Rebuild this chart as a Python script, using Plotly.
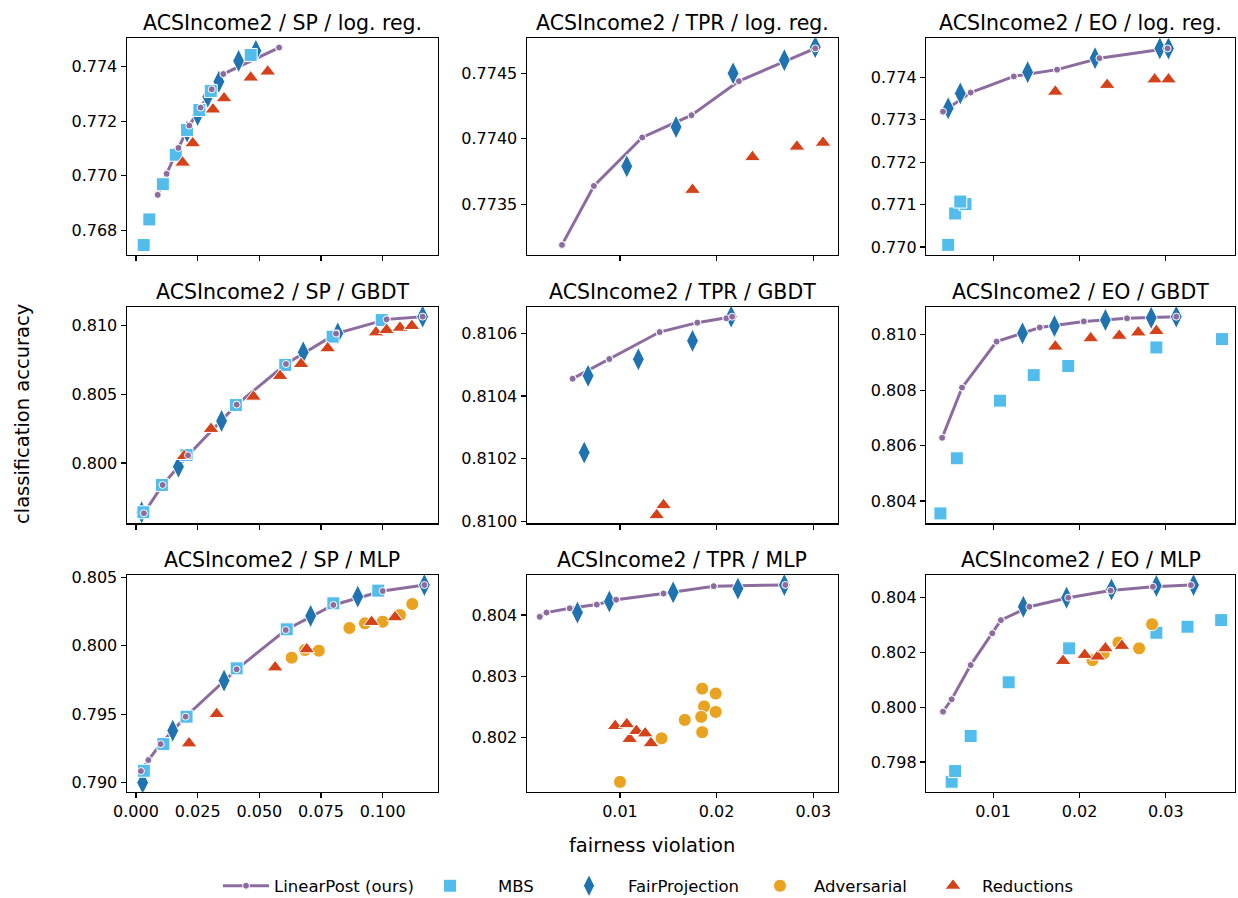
import plotly.graph_objects as go

W, H = 1238, 898

# ---------------- data ----------------
titles = [
    "ACSIncome2 / SP / log. reg.", "ACSIncome2 / TPR / log. reg.", "ACSIncome2 / EO / log. reg.",
    "ACSIncome2 / SP / GBDT", "ACSIncome2 / TPR / GBDT", "ACSIncome2 / EO / GBDT",
    "ACSIncome2 / SP / MLP", "ACSIncome2 / TPR / MLP", "ACSIncome2 / EO / MLP",
]
method_names = ["LinearPost (ours)", "MBS", "FairProjection", "Adversarial", "Reductions"]
x_label = "fairness violation"
y_label = "classification accuracy"

# SP / log. reg.
sp_lr_lp_x = [0.0088, 0.0124, 0.0172, 0.0216, 0.0262, 0.0307, 0.0354, 0.0580]
sp_lr_lp_y = [0.76930, 0.77007, 0.77102, 0.77184, 0.77250, 0.77317, 0.77373, 0.77470]
sp_lr_mbs_x = [0.0031, 0.0054, 0.0109, 0.0161, 0.0207, 0.0257, 0.0303, 0.0465]
sp_lr_mbs_y = [0.76746, 0.76840, 0.76969, 0.77077, 0.77168, 0.77241, 0.77311, 0.77443]
sp_lr_fp_x = [0.0207, 0.0250, 0.0291, 0.0336, 0.0416, 0.0486]
sp_lr_fp_y = [0.77162, 0.77223, 0.77290, 0.77345, 0.77421, 0.77458]
sp_lr_red_x = [0.0189, 0.0230, 0.0312, 0.0357, 0.0465, 0.0534]
sp_lr_red_y = [0.77048, 0.77119, 0.77243, 0.77284, 0.77360, 0.77382]

# TPR / log. reg.
tpr_lr_lp_x = [0.0040, 0.0073, 0.0123, 0.0174, 0.0223, 0.0302]
tpr_lr_lp_y = [0.77319, 0.77364, 0.77401, 0.77418, 0.77444, 0.77469]
tpr_lr_fp_x = [0.0107, 0.0158, 0.0217, 0.0270, 0.0302]
tpr_lr_fp_y = [0.77379, 0.77409, 0.77450, 0.77460, 0.77470]
tpr_lr_red_x = [0.0175, 0.0237, 0.0283, 0.0310]
tpr_lr_red_y = [0.77361, 0.77386, 0.77394, 0.77397]

# EO / log. reg.
eo_lr_lp_x = [0.0042, 0.0074, 0.0124, 0.0174, 0.0223, 0.0302]
eo_lr_lp_y = [0.77319, 0.77364, 0.77402, 0.77418, 0.77445, 0.77468]
eo_lr_mbs_x = [0.0048, 0.0056, 0.0068, 0.0062]
eo_lr_mbs_y = [0.77005, 0.77079, 0.77101, 0.77107]
eo_lr_fp_x = [0.0048, 0.0062, 0.0140, 0.0218, 0.0293, 0.0303]
eo_lr_fp_y = [0.77327, 0.77362, 0.77412, 0.77445, 0.77468, 0.77468]
eo_lr_red_x = [0.0172, 0.0232, 0.0287, 0.0303]
eo_lr_red_y = [0.77366, 0.77382, 0.77395, 0.77395]

# SP / GBDT
sp_gb_lp_x = [0.0032, 0.0108, 0.0211, 0.0408, 0.0608, 0.0811, 0.1016, 0.1162]
sp_gb_lp_y = [0.79634, 0.79840, 0.80056, 0.80425, 0.80721, 0.80942, 0.81046, 0.81066]
sp_gb_mbs_x = [0.0030, 0.0105, 0.0205, 0.0405, 0.0605, 0.0797, 0.0996]
sp_gb_mbs_y = [0.79641, 0.79840, 0.80058, 0.80422, 0.80714, 0.80920, 0.81041]
sp_gb_fp_x = [0.0023, 0.0172, 0.0347, 0.0678, 0.0818, 0.1162]
sp_gb_fp_y = [0.79641, 0.79973, 0.80306, 0.80806, 0.80944, 0.81066]
sp_gb_red_x = [0.0195, 0.0304, 0.0476, 0.0584, 0.0669, 0.0777, 0.0973, 0.1016, 0.1070, 0.1118]
sp_gb_red_y = [0.80051, 0.80248, 0.80483, 0.80634, 0.80721, 0.80835, 0.80951, 0.80968, 0.80985, 0.80998]

# TPR / GBDT
tpr_gb_lp_x = [0.0051, 0.0089, 0.0141, 0.0180, 0.0210, 0.0216]
tpr_gb_lp_y = [0.810455, 0.810518, 0.810604, 0.810634, 0.810648, 0.810653]
tpr_gb_fp_x = [0.0063, 0.0067, 0.0119, 0.0175, 0.0215]
tpr_gb_fp_y = [0.810219, 0.810464, 0.810517, 0.810576, 0.810653]
tpr_gb_red_x = [0.0138, 0.0145]
tpr_gb_red_y = [0.810019, 0.810051]

# EO / GBDT
eo_gb_lp_x = [0.0041, 0.0064, 0.0104, 0.0154, 0.0205, 0.0255, 0.0312]
eo_gb_lp_y = [0.80628, 0.80809, 0.80975, 0.81026, 0.81048, 0.81059, 0.81065]
eo_gb_mbs_x = [0.0039, 0.0058, 0.0108, 0.0147, 0.0187, 0.0289, 0.0365]
eo_gb_mbs_y = [0.80355, 0.80554, 0.80762, 0.80854, 0.80887, 0.80954, 0.80984]
eo_gb_fp_x = [0.0134, 0.0171, 0.0230, 0.0283, 0.0312]
eo_gb_fp_y = [0.81005, 0.81031, 0.81053, 0.81061, 0.81065]
eo_gb_red_x = [0.0172, 0.0213, 0.0246, 0.0268, 0.0289]
eo_gb_red_y = [0.80957, 0.80987, 0.80996, 0.81008, 0.81013]

# SP / MLP
sp_mlp_lp_x = [0.0020, 0.0050, 0.0100, 0.0201, 0.0408, 0.0607, 0.0800, 0.1000, 0.1169]
sp_mlp_lp_y = [0.79085, 0.79165, 0.79282, 0.79482, 0.79828, 0.80115, 0.80298, 0.80400, 0.80444]
sp_mlp_mbs_x = [0.0032, 0.0111, 0.0205, 0.0408, 0.0611, 0.0800, 0.0982]
sp_mlp_mbs_y = [0.79087, 0.79282, 0.79482, 0.79835, 0.80120, 0.80310, 0.80403]
sp_mlp_fp_x = [0.0027, 0.0149, 0.0357, 0.0708, 0.0899, 0.1169]
sp_mlp_fp_y = [0.79000, 0.79380, 0.79745, 0.80218, 0.80359, 0.80444]
sp_mlp_adv_x = [0.0631, 0.0685, 0.0741, 0.0865, 0.0928, 0.1000, 0.1070, 0.1120]
sp_mlp_adv_y = [0.79913, 0.79969, 0.79964, 0.80130, 0.80164, 0.80176, 0.80225, 0.80305]
sp_mlp_red_x = [0.0215, 0.0327, 0.0564, 0.0692, 0.0955, 0.1050]
sp_mlp_red_y = [0.79287, 0.79501, 0.79842, 0.79974, 0.80174, 0.80208]

# TPR / MLP
tpr_mlp_lp_x = [0.0017, 0.0024, 0.0048, 0.0076, 0.0096, 0.0145, 0.0197, 0.0271]
tpr_mlp_lp_y = [0.80397, 0.80404, 0.80411, 0.80417, 0.80425, 0.80435, 0.80447, 0.80449]
tpr_mlp_fp_x = [0.0056, 0.0089, 0.0155, 0.0222, 0.0270]
tpr_mlp_fp_y = [0.80404, 0.80422, 0.80437, 0.80443, 0.80449]
tpr_mlp_adv_x = [0.0100, 0.0143, 0.0167, 0.0185, 0.0199, 0.0187, 0.0184, 0.0199, 0.0185]
tpr_mlp_adv_y = [0.80128, 0.80199, 0.80229, 0.80280, 0.80272, 0.80251, 0.80234, 0.80242, 0.80209]
tpr_mlp_red_x = [0.0095, 0.0107, 0.0110, 0.0117, 0.0126, 0.0132]
tpr_mlp_red_y = [0.80219, 0.80222, 0.80198, 0.80211, 0.80207, 0.80191]

# EO / MLP
eo_mlp_lp_x = [0.0042, 0.0052, 0.0074, 0.0099, 0.0109, 0.0142, 0.0187, 0.0236, 0.0285, 0.0329]
eo_mlp_lp_y = [0.79984, 0.80029, 0.80154, 0.80270, 0.80318, 0.80367, 0.80400, 0.80426, 0.80440, 0.80446]
eo_mlp_mbs_x = [0.0052, 0.0056, 0.0074, 0.0118, 0.0188, 0.0289, 0.0325, 0.0364]
eo_mlp_mbs_y = [0.79728, 0.79767, 0.79895, 0.80091, 0.80215, 0.80272, 0.80294, 0.80318]
eo_mlp_fp_x = [0.0135, 0.0185, 0.0237, 0.0289, 0.0332]
eo_mlp_fp_y = [0.80367, 0.80400, 0.80430, 0.80443, 0.80446]
eo_mlp_adv_x = [0.0215, 0.0228, 0.0245, 0.0269, 0.0284]
eo_mlp_adv_y = [0.80172, 0.80197, 0.80236, 0.80215, 0.80303]
eo_mlp_red_x = [0.0181, 0.0206, 0.0221, 0.0230, 0.0249]
eo_mlp_red_y = [0.80169, 0.80191, 0.80185, 0.80215, 0.80224]

# tick values
x_ticks_sp = [0.0, 0.025, 0.05, 0.075, 0.1]
x_ticks_rate = [0.01, 0.02, 0.03]
y_ticks = [
    [0.768, 0.770, 0.772, 0.774],
    [0.7735, 0.7740, 0.7745],
    [0.770, 0.771, 0.772, 0.773, 0.774],
    [0.800, 0.805, 0.810],
    [0.8100, 0.8102, 0.8104, 0.8106],
    [0.804, 0.806, 0.808, 0.810],
    [0.790, 0.795, 0.800, 0.805],
    [0.802, 0.803, 0.804],
    [0.798, 0.800, 0.802, 0.804],
]
y_tick_formats = [".3f", ".4f", ".3f", ".3f", ".4f", ".3f", ".3f", ".3f", ".3f"]

# ---------------- styling / layout ----------------
FONT = "DejaVu Sans"
C_LP = "#8C6C9F"
C_MBS = "#52BDEC"
C_FP = "#1F73B0"
C_ADV = "#E9A321"
C_RED = "#D5421A"

col_px = [(126.7, 437.7), (526.7, 838.0), (926.0, 1235.0)]
row_px = [(38.3, 255.0), (306.7, 523.3), (575.0, 791.7)]
x_ranges = [[-0.00377, 0.1223], [0.00035, 0.03255], [0.00223, 0.0380]]
y_ranges = [
    [0.767095, 0.775040], [0.773113, 0.774767], [0.769811, 0.774919],
    [0.795607, 0.811383], [0.809993, 0.810685], [0.803194, 0.811010],
    [0.789342, 0.805170], [0.801120, 0.804652], [0.796917, 0.804828],
]

panels = [
    dict(lp=(sp_lr_lp_x, sp_lr_lp_y), mbs=(sp_lr_mbs_x, sp_lr_mbs_y), fp=(sp_lr_fp_x, sp_lr_fp_y), adv=None, red=(sp_lr_red_x, sp_lr_red_y)),
    dict(lp=(tpr_lr_lp_x, tpr_lr_lp_y), mbs=None, fp=(tpr_lr_fp_x, tpr_lr_fp_y), adv=None, red=(tpr_lr_red_x, tpr_lr_red_y)),
    dict(lp=(eo_lr_lp_x, eo_lr_lp_y), mbs=(eo_lr_mbs_x, eo_lr_mbs_y), fp=(eo_lr_fp_x, eo_lr_fp_y), adv=None, red=(eo_lr_red_x, eo_lr_red_y)),
    dict(lp=(sp_gb_lp_x, sp_gb_lp_y), mbs=(sp_gb_mbs_x, sp_gb_mbs_y), fp=(sp_gb_fp_x, sp_gb_fp_y), adv=None, red=(sp_gb_red_x, sp_gb_red_y)),
    dict(lp=(tpr_gb_lp_x, tpr_gb_lp_y), mbs=None, fp=(tpr_gb_fp_x, tpr_gb_fp_y), adv=None, red=(tpr_gb_red_x, tpr_gb_red_y)),
    dict(lp=(eo_gb_lp_x, eo_gb_lp_y), mbs=(eo_gb_mbs_x, eo_gb_mbs_y), fp=(eo_gb_fp_x, eo_gb_fp_y), adv=None, red=(eo_gb_red_x, eo_gb_red_y)),
    dict(lp=(sp_mlp_lp_x, sp_mlp_lp_y), mbs=(sp_mlp_mbs_x, sp_mlp_mbs_y), fp=(sp_mlp_fp_x, sp_mlp_fp_y), adv=(sp_mlp_adv_x, sp_mlp_adv_y), red=(sp_mlp_red_x, sp_mlp_red_y)),
    dict(lp=(tpr_mlp_lp_x, tpr_mlp_lp_y), mbs=None, fp=(tpr_mlp_fp_x, tpr_mlp_fp_y), adv=(tpr_mlp_adv_x, tpr_mlp_adv_y), red=(tpr_mlp_red_x, tpr_mlp_red_y)),
    dict(lp=(eo_mlp_lp_x, eo_mlp_lp_y), mbs=(eo_mlp_mbs_x, eo_mlp_mbs_y), fp=(eo_mlp_fp_x, eo_mlp_fp_y), adv=(eo_mlp_adv_x, eo_mlp_adv_y), red=(eo_mlp_red_x, eo_mlp_red_y)),
]

fig = go.Figure()
shown = set()

def legend_flag(key):
    if key in shown:
        return False
    shown.add(key)
    return True

legend_ids = {"lp": "legend", "mbs": "legend2", "fp": "legend3", "adv": "legend4", "red": "legend5"}

for k, p in enumerate(panels):
    s = "" if k == 0 else str(k + 1)
    xa, ya = "x" + s, "y" + s
    lx, ly = p["lp"]
    fig.add_trace(go.Scatter(
        x=lx, y=ly, mode="lines+markers", name=method_names[0], legendgroup="lp",
        legend=legend_ids["lp"], showlegend=legend_flag("lp"),
        line=dict(color=C_LP, width=3),
        marker=dict(symbol="circle", size=7, color=C_LP, line=dict(color="white", width=1)),
        xaxis=xa, yaxis=ya, hoverinfo="skip"))
    if p["fp"] is not None:
        fig.add_trace(go.Scatter(
            x=p["fp"][0], y=p["fp"][1], mode="markers", name=method_names[2], legendgroup="fp",
            legend=legend_ids["fp"], showlegend=legend_flag("fp"),
            marker=dict(symbol="diamond-tall", size=17, color=C_FP, line=dict(color="white", width=1)),
            xaxis=xa, yaxis=ya, hoverinfo="skip"))
    if p["mbs"] is not None:
        fig.add_trace(go.Scatter(
            x=p["mbs"][0], y=p["mbs"][1], mode="markers", name=method_names[1], legendgroup="mbs",
            legend=legend_ids["mbs"], showlegend=legend_flag("mbs"),
            marker=dict(symbol="square", size=13, color=C_MBS, line=dict(color="white", width=1)),
            xaxis=xa, yaxis=ya, hoverinfo="skip"))
    if p["adv"] is not None:
        fig.add_trace(go.Scatter(
            x=p["adv"][0], y=p["adv"][1], mode="markers", name=method_names[3], legendgroup="adv",
            legend=legend_ids["adv"], showlegend=legend_flag("adv"),
            marker=dict(symbol="circle", size=13, color=C_ADV, line=dict(color="white", width=1)),
            xaxis=xa, yaxis=ya, hoverinfo="skip"))
    if p["red"] is not None:
        fig.add_trace(go.Scatter(
            x=p["red"][0], y=p["red"][1], mode="markers", name=method_names[4], legendgroup="red",
            legend=legend_ids["red"], showlegend=legend_flag("red"),
            marker=dict(symbol="triangle-up", size=14, color=C_RED, line=dict(color="white", width=1)),
            xaxis=xa, yaxis=ya, hoverinfo="skip"))
    fig.add_trace(go.Scatter(
        x=lx, y=ly, mode="markers", name=method_names[0], legendgroup="lp",
        legend=legend_ids["lp"], showlegend=False,
        marker=dict(symbol="circle", size=7, color=C_LP, line=dict(color="white", width=1)),
        xaxis=xa, yaxis=ya, hoverinfo="skip"))

layout = dict(
    width=W, height=H,
    margin=dict(l=0, r=0, t=0, b=0, pad=0, autoexpand=False),
    paper_bgcolor="white", plot_bgcolor="white",
    font=dict(family=FONT, size=16, color="black"),
    hovermode=False,
)

axis_common = dict(showgrid=False, zeroline=False, showline=True, linecolor="black", linewidth=1.2,
                   mirror=True, ticks="outside", ticklen=5, tickwidth=1.2, tickcolor="black",
                   automargin=False,
                   tickfont=dict(family=FONT, size=16, color="black"))

annotations = []
for k in range(9):
    r, c = divmod(k, 3)
    s = "" if k == 0 else str(k + 1)
    x0, x1 = col_px[c]
    y0, y1 = row_px[r]
    xt = x_ticks_sp if c == 0 else x_ticks_rate
    layout["xaxis" + s] = dict(axis_common, domain=[x0 / W, x1 / W], range=x_ranges[c],
                               anchor="y" + s, tickmode="array", tickvals=xt,
                               tickformat=".3f" if c == 0 else ".2f",
                               showticklabels=(r == 2))
    layout["yaxis" + s] = dict(axis_common, domain=[1 - y1 / H, 1 - y0 / H], range=y_ranges[k],
                               anchor="x" + s, tickmode="array", tickvals=y_ticks[k],
                               tickformat=y_tick_formats[k])
    annotations.append(dict(text=titles[k], xref="paper", yref="paper",
                            x=(x0 + x1) / 2 / W, y=1 - y0 / H, xanchor="center", yanchor="bottom",
                            yshift=1, showarrow=False, font=dict(family=FONT, size=20.5, color="black")))

annotations.append(dict(text=x_label, xref="paper", yref="paper", x=652 / W, y=1 - 845 / H,
                        xanchor="center", yanchor="middle", showarrow=False,
                        font=dict(family=FONT, size=19.5, color="black")))
annotations.append(dict(text=y_label, xref="paper", yref="paper", x=22 / W, y=1 - 414 / H,
                        xanchor="center", yanchor="middle", textangle=-90, showarrow=False,
                        font=dict(family=FONT, size=19.5, color="black")))
layout["annotations"] = annotations

# legend placement: (left px, item width px)
legend_pos = {"legend": (218, 46), "legend2": (402, 86), "legend3": (550, 68),
              "legend4": (746, 58), "legend5": (924, 48)}
for lid, (xp, iw) in legend_pos.items():
    layout[lid] = dict(x=xp / W, y=1 - 886 / H, xanchor="left", yanchor="middle",
                       orientation="h", bgcolor="rgba(0,0,0,0)", borderwidth=0,
                       itemwidth=iw,
                       font=dict(family=FONT, size=16.5, color="black"))

fig.update_layout(**layout)
fig.write_html("out.html", config={"displayModeBar": False, "staticPlot": True},
               post_script="document.body.style.margin='0px';document.body.style.overflow='hidden';")
